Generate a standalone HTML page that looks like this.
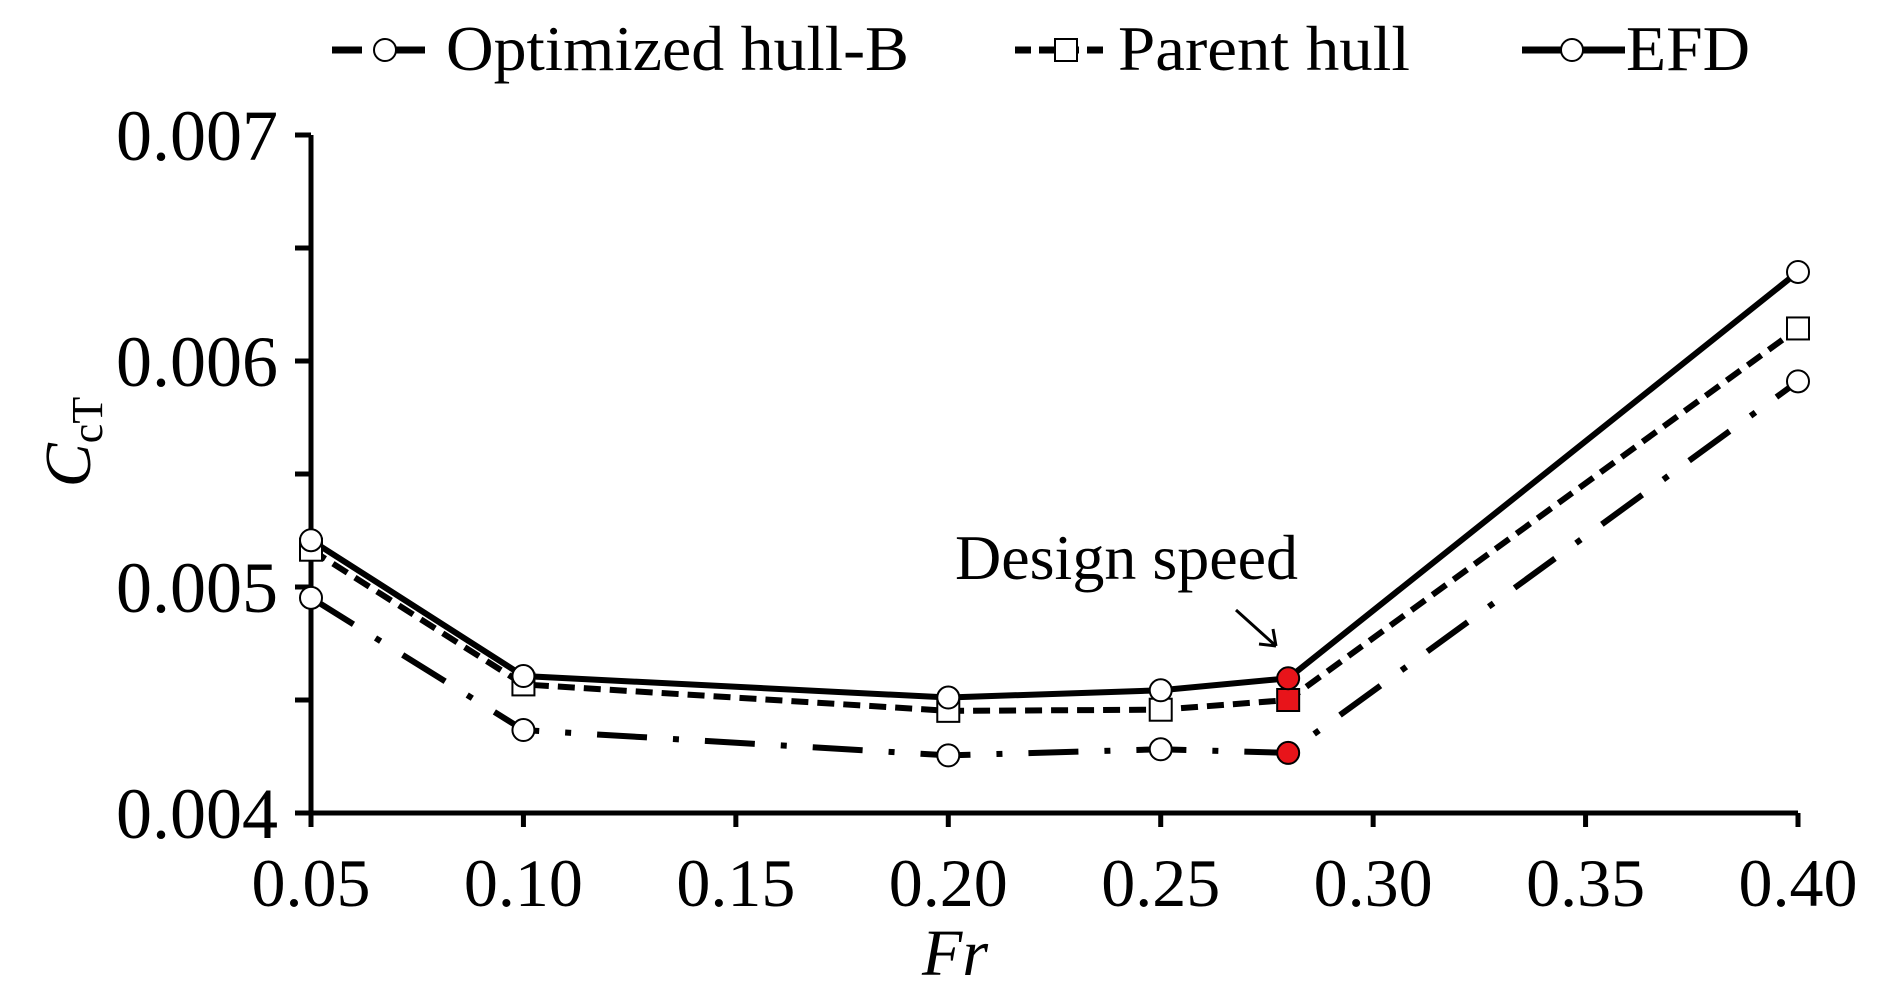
<!DOCTYPE html>
<html><head><meta charset="utf-8"><style>
html,body{margin:0;padding:0;background:#fff;}
svg{display:block;font-family:"Liberation Serif",serif;}
</style></head><body>
<svg id="chart" width="1890" height="993" viewBox="0 0 1890 993">
<g id="axes"></g>
<g id="series"></g>
<g id="legend"></g>
</svg>
<script>
const xTicks = [0.05,0.10,0.15,0.20,0.25,0.30,0.35,0.40];
const xTickLabels = ["0.05","0.10","0.15","0.20","0.25","0.30","0.35","0.40"];
const yTicks = [0.004,0.0045,0.005,0.0055,0.006,0.0065,0.007];
const yTickLabels = ["0.004","","0.005","","0.006","","0.007"];
const frValues = [0.05,0.10,0.20,0.25,0.28,0.40];
const efdValues = [0.005207,0.004606,0.004511,0.004543,0.004596,0.006394];
const parentValues = [0.005165,0.004569,0.004452,0.004457,0.0045,0.006144];
const optimizedValues = [0.004952,0.004367,0.004255,0.004282,0.004266,0.00591];
const designIndex = 4;

const NS="http://www.w3.org/2000/svg";
const X0=311,X1=1798,Y0=813,Y1=135;
function xs(v){return X0+(v-0.05)/(0.40-0.05)*(X1-X0);}
function ys(v){return Y0-(v-0.004)/(0.007-0.004)*(Y0-Y1);}
function mk(tag,parent,attrs){const e=document.createElementNS(NS,tag);for(const k in attrs)e.setAttribute(k,attrs[k]);parent.appendChild(e);return e;}

const axes=document.getElementById('axes');
const yAxis=mk('line',axes,{x1:X0,y1:Y1,x2:X0,y2:Y0+14,stroke:'#000','stroke-width':5});


const xAxis=mk('line',axes,{x1:X0-16,y1:Y0,x2:X1,y2:Y0,stroke:'#000','stroke-width':5});


xTicks.forEach((t,i)=>{
  const tk=mk('line',axes,{x1:xs(t),y1:Y0,x2:xs(t),y2:Y0+14,stroke:'#000','stroke-width':5});
  
  
  const tl=mk('text',axes,{x:xs(t),y:906,'text-anchor':'middle','font-size':68});
  tl.textContent=xTickLabels[i];
  
  
});
yTicks.forEach((t,i)=>{
  const tk=mk('line',axes,{x1:X0-16,y1:ys(t),x2:X0,y2:ys(t),stroke:'#000','stroke-width':5});
  
  
  if(yTickLabels[i]){
    const tl=mk('text',axes,{x:278,y:ys(t)+25,'text-anchor':'end','font-size':72});
    tl.textContent=yTickLabels[i];
    
    
  }
});
const xt=mk('text',axes,{x:955,y:975,'text-anchor':'middle','font-size':66,'font-style':'italic'});
xt.textContent='Fr';


const yt=mk('text',axes,{transform:'translate(90,442) rotate(-90)','text-anchor':'middle','font-size':66,'font-style':'italic'});
yt.innerHTML='C<tspan font-style="normal" font-size="44" dy="12">cT</tspan>';



const ann=mk('text',axes,{x:955,y:579,'font-size':64});
ann.textContent='Design speed';


const arr=mk('path',axes,{d:'M1236,610 L1276,646 M1276,646 L1259,644 M1276,646 L1273,629',stroke:'#000','stroke-width':3,fill:'none'});



const series=document.getElementById('series');
const defs=[
 {vals:optimizedValues,dash:'50 26 6 26',marker:'circle',name:'optimized-hull-b'},
 {vals:parentValues,dash:'17 9',marker:'square',name:'parent-hull'},
 {vals:efdValues,dash:'',marker:'circle',name:'efd'}
];
defs.forEach(s=>{
  const d=s.vals.map((v,i)=>(i?'L':'M')+xs(frValues[i])+','+ys(v)).join(' ');
  const p=mk('path',series,{d:d,stroke:'#000','stroke-width':6,fill:'none','stroke-dasharray':s.dash});
  
  
});
defs.forEach(s=>{
  s.vals.forEach((v,i)=>{
    const cx=xs(frValues[i]),cy=ys(v);
    const fill=i===designIndex?'#e8141a':'#fff';
    let m;
    if(s.marker==='circle') m=mk('circle',series,{cx:cx,cy:cy,r:11,fill:fill,stroke:'#000','stroke-width':2});
    else m=mk('rect',series,{x:cx-11,y:cy-11,width:22,height:22,fill:fill,stroke:'#000','stroke-width':2});
    
    
  });
});

const legend=document.getElementById('legend');
const leg=[
 {x1:332,x2:432,mx:385,dash:'30 14 5 14',marker:'circle',label:'Optimized hull-B',tx:446,tw:463,name:'legend-optimized-hull-b'},
 {x1:1015,x2:1108,mx:1066,dash:'16 8',marker:'square',label:'Parent hull',tx:1118,tw:292,name:'legend-parent-hull'},
 {x1:1522,x2:1625,mx:1572,dash:'',marker:'circle',label:'EFD',tx:1626,tw:124,name:'legend-efd'}
];
leg.forEach(l=>{
  const g=mk('g',legend,{});
  
  
  mk('line',g,{x1:l.x1,y1:50,x2:l.x2,y2:50,stroke:'#000','stroke-width':7,'stroke-dasharray':l.dash});
  if(l.marker==='circle') mk('circle',g,{cx:l.mx,cy:50,r:11,fill:'#fff',stroke:'#000','stroke-width':2});
  else mk('rect',g,{x:l.mx-11,y:39,width:22,height:22,fill:'#fff',stroke:'#000','stroke-width':2});
  const t=mk('text',g,{x:l.tx,y:70,'font-size':64,textLength:l.tw,lengthAdjust:'spacingAndGlyphs'});
  t.textContent=l.label;
});
</script>
</body></html>
